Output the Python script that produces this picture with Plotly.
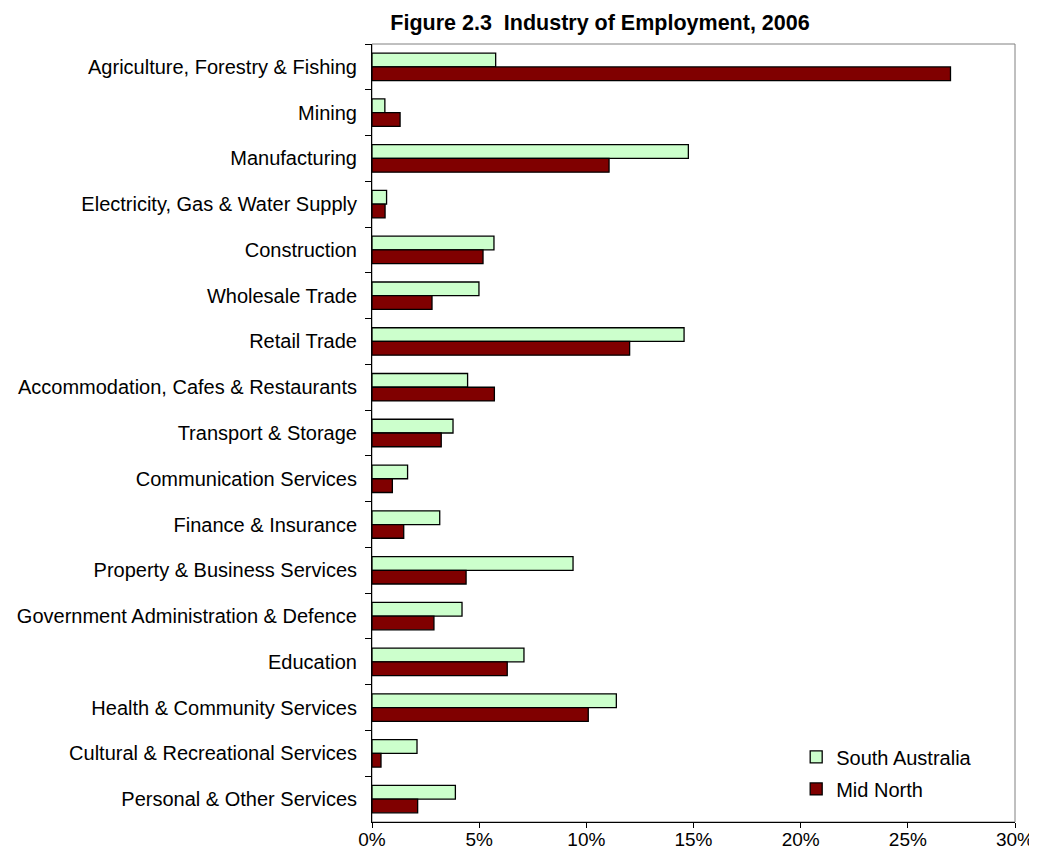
import plotly.graph_objects as go

categories = [
    "Agriculture, Forestry & Fishing",
    "Mining",
    "Manufacturing",
    "Electricity, Gas & Water Supply",
    "Construction",
    "Wholesale Trade",
    "Retail Trade",
    "Accommodation, Cafes & Restaurants",
    "Transport & Storage",
    "Communication Services",
    "Finance & Insurance",
    "Property & Business Services",
    "Government Administration & Defence",
    "Education",
    "Health & Community Services",
    "Cultural & Recreational Services",
    "Personal & Other Services",
]

south_australia = [5.77, 0.60, 14.76, 0.68, 5.69, 4.99, 14.56, 4.46, 3.78, 1.66,
                   3.16, 9.38, 4.20, 7.09, 11.40, 2.10, 3.89]
mid_north = [26.99, 1.31, 11.06, 0.61, 5.18, 2.80, 12.02, 5.71, 3.23, 0.95,
             1.48, 4.39, 2.89, 6.31, 10.09, 0.42, 2.13]

x_ticks = [0, 5, 10, 15, 20, 25, 30]
x_tick_labels = ["0%", "5%", "10%", "15%", "20%", "25%", "30%"]

FONT = "Liberation Sans, Arial, sans-serif"

# page body has an 8px default margin, so the figure is sized/offset to fit the window
W, H = 1029, 857

fig = go.Figure()
fig.add_trace(go.Bar(
    y=categories, x=south_australia, orientation="h", name="South Australia",
    marker=dict(color="#CCFFCC", line=dict(color="#000000", width=1.3)),
    legendgroup="sa",
))
fig.add_trace(go.Bar(
    y=categories, x=mid_north, orientation="h", name="Mid North",
    marker=dict(color="#800000", line=dict(color="#000000", width=1.3)),
    legendgroup="mn",
))

fig.update_layout(
    width=W, height=H,
    margin=dict(l=364, r=22, t=36, b=43, autoexpand=False),
    paper_bgcolor="white", plot_bgcolor="white",
    barmode="group", bargap=0.4, bargroupgap=0,
    font=dict(family=FONT, size=20, color="#000000"),
    title=dict(
        text="<b>Figure 2.3  Industry of Employment, 2006</b>",
        x=592 / W, xanchor="center", xref="container",
        y=1 - 14 / H, yanchor="middle", yref="container",
        font=dict(family=FONT, size=21.5, color="#000000"),
    ),
    legend=dict(
        x=0.6597, y=0.1087, xanchor="left", yanchor="top",
        bgcolor="rgba(255,255,255,0)", borderwidth=0,
        font=dict(family=FONT, size=20),
        traceorder="grouped", tracegroupgap=3,
    ),
    showlegend=True,
    shapes=[dict(type="rect", xref="paper", yref="paper", x0=0, x1=1, y0=0, y1=1,
                 line=dict(color="#808080", width=1), fillcolor="rgba(0,0,0,0)",
                 layer="below")],
)

fig.update_xaxes(
    range=[0, 30], tickvals=x_ticks, ticktext=x_tick_labels,
    showgrid=False, zeroline=False, automargin=False,
    showline=True, linecolor="#000000", linewidth=1,
    ticks="outside", ticklen=5, tickcolor="#000000",
    ticklabelstandoff=-5,
    tickfont=dict(family=FONT, size=19),
)
fig.update_yaxes(
    categoryorder="array", categoryarray=categories, autorange="reversed",
    showgrid=False, zeroline=False, automargin=False,
    showline=True, linecolor="#000000", linewidth=1,
    ticks="outside", ticklen=6, tickcolor="#000000",
    tickson="boundaries", ticklabelstandoff=10,
    tickfont=dict(family=FONT, size=20),
)

fig.write_html("out.html")
